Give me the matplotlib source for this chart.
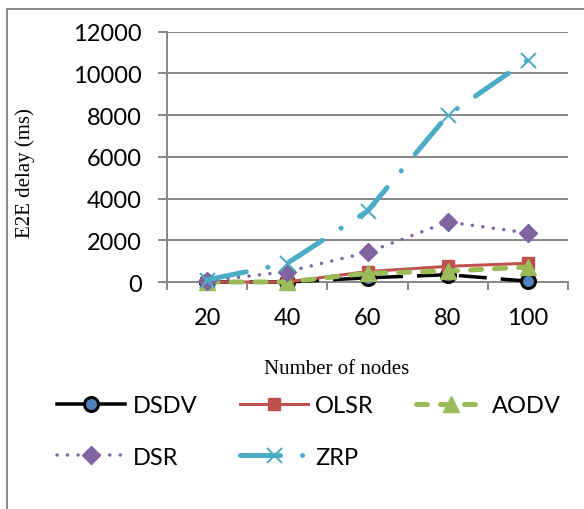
import matplotlib
matplotlib.use("Agg")
import matplotlib.pyplot as plt
from matplotlib.lines import Line2D

# Data: end-to-end delay (ms) per routing protocol
nodes = ["20", "40", "60", "80", "100"]
dsdv = [0, 0, 200, 350, 40]
olsr = [0, 0, 500, 750, 900]
aodv = [0, 0, 420, 520, 720]
dsr = [50, 500, 1420, 2880, 2350]
zrp = [100, 900, 3400, 8000, 10650]
yticks = [0, 2000, 4000, 6000, 8000, 10000, 12000]

W, H = 584, 510
fig = plt.figure(figsize=(W / 100, H / 100), dpi=100)

def px(x0, y0, x1, y1):
    return [x0 / W, 1 - y1 / H, (x1 - x0) / W, (y1 - y0) / H]

ax = fig.add_axes(px(167, 32.7, 568, 283))

tick_font = "Lato"
grid_c = "#8a8a8a"
x = list(range(len(nodes)))

c_dsdv_face = "#4F81BD"
c_olsr = "#C0504D"
c_aodv = "#9BBB59"
c_dsr = "#8064A2"
c_zrp = "#4BACC6"

lw_px = lambda p: p * 72 / 100  # pixels -> points

# series
ax.plot(x, dsdv, color="black", lw=lw_px(3.5), linestyle=(0, (8, 4)),
        marker="o", ms=lw_px(14), mfc=c_dsdv_face, mec="black", mew=lw_px(3),
        clip_on=False, zorder=3)
ax.plot(x, olsr, color=c_olsr, lw=lw_px(3),
        marker="s", ms=lw_px(12), mfc=c_olsr, mec=c_olsr,
        clip_on=False, zorder=4)
aodv_ls = (0, (2.2, 2.6))
ax.plot(x, aodv, color=c_aodv, lw=lw_px(5), linestyle=aodv_ls, dash_capstyle="round",
        marker="^", ms=lw_px(16), mfc=c_aodv, mec=c_aodv,
        clip_on=False, zorder=5)
dsr_ls = (0, (0.01, 3.0))
ax.plot(x, dsr, color=c_dsr, lw=lw_px(3.5), linestyle=dsr_ls, dash_capstyle="round",
        marker="D", ms=lw_px(13), mfc=c_dsr, mec=c_dsr,
        clip_on=False, zorder=6)
zrp_ls = (0, (8, 4.4, 0.01, 4.4))
ax.plot(x, zrp, color=c_zrp, lw=lw_px(5), linestyle=zrp_ls, dash_capstyle="round",
        marker="x", ms=lw_px(15), mec=c_zrp, mew=lw_px(2),
        clip_on=False, zorder=7)

# axes styling
ax.set_xlim(-0.5, len(nodes) - 0.5)
ax.set_ylim(0, 12000)
ax.set_yticks(yticks)
ax.set_yticklabels([str(v) for v in yticks], fontfamily=tick_font, fontsize=17)
ax.set_xticks([i - 0.5 for i in range(len(nodes) + 1)])
ax.set_xticklabels([])
ax.set_xticks(x, minor=True)
ax.set_xticklabels(nodes, minor=True, fontfamily=tick_font, fontsize=17)
ax.tick_params(axis="x", which="major", length=lw_px(8), width=lw_px(2),
               color=grid_c, direction="out")
ax.tick_params(axis="x", which="minor", length=0, pad=18)
ax.tick_params(axis="y", length=lw_px(9), width=lw_px(2), color=grid_c,
               direction="out", pad=11.5)
ax.grid(axis="y", color=grid_c, lw=lw_px(2))
ax.set_axisbelow(True)
for s in ["top", "right"]:
    ax.spines[s].set_visible(False)
for s in ["left", "bottom"]:
    ax.spines[s].set_color(grid_c)
    ax.spines[s].set_linewidth(lw_px(2))

fig.text(337 / W, 1 - 370 / H, "Number of nodes", fontfamily="Liberation Serif",
         fontsize=15, ha="center", va="center")
fig.text(25 / W, 1 - 173 / H, "E2E delay (ms)", fontfamily="Liberation Serif",
         fontsize=15, ha="center", va="center", rotation=90)

# legend
h_dsdv = Line2D([], [], color="black", lw=lw_px(3.5), marker="o", ms=lw_px(14),
                mfc=c_dsdv_face, mec="black", mew=lw_px(3))
h_olsr = Line2D([], [], color=c_olsr, lw=lw_px(3), marker="s", ms=lw_px(12),
                mfc=c_olsr, mec=c_olsr)
h_aodv = Line2D([], [], color=c_aodv, lw=lw_px(5), linestyle=aodv_ls,
                dash_capstyle="round", marker="^", ms=lw_px(16), mfc=c_aodv, mec=c_aodv)
h_dsr = Line2D([], [], color=c_dsr, lw=lw_px(3.5), linestyle=dsr_ls,
               dash_capstyle="round", marker="D", ms=lw_px(13), mfc=c_dsr, mec=c_dsr)
h_zrp = Line2D([], [], color=c_zrp, lw=lw_px(5), linestyle=zrp_ls,
               dash_capstyle="round", marker="x", ms=lw_px(15), mec=c_zrp, mew=lw_px(2))
leg = fig.legend([h_dsdv, h_dsr, h_olsr, h_zrp, h_aodv],
                 ["DSDV", "DSR", "OLSR", "ZRP", "AODV"],
                 ncol=3, loc="upper left", bbox_to_anchor=(57 / W, 1 - 396 / H),
                 frameon=False, prop={"family": tick_font, "size": 17},
                 handlelength=2.9, handletextpad=0.3, columnspacing=1.8,
                 labelspacing=1.3, borderpad=0, borderaxespad=0)

# outer frame
fig.add_artist(Line2D([6.5 / W, 6.5 / W], [0, 1 - 10 / H], color="#8c8c8c",
                      lw=lw_px(2), transform=fig.transFigure))
fig.add_artist(Line2D([6.5 / W, 1], [1 - 10 / H, 1 - 10 / H], color="#8c8c8c",
                      lw=lw_px(2), transform=fig.transFigure))

fig.savefig("out.png", dpi=100)
